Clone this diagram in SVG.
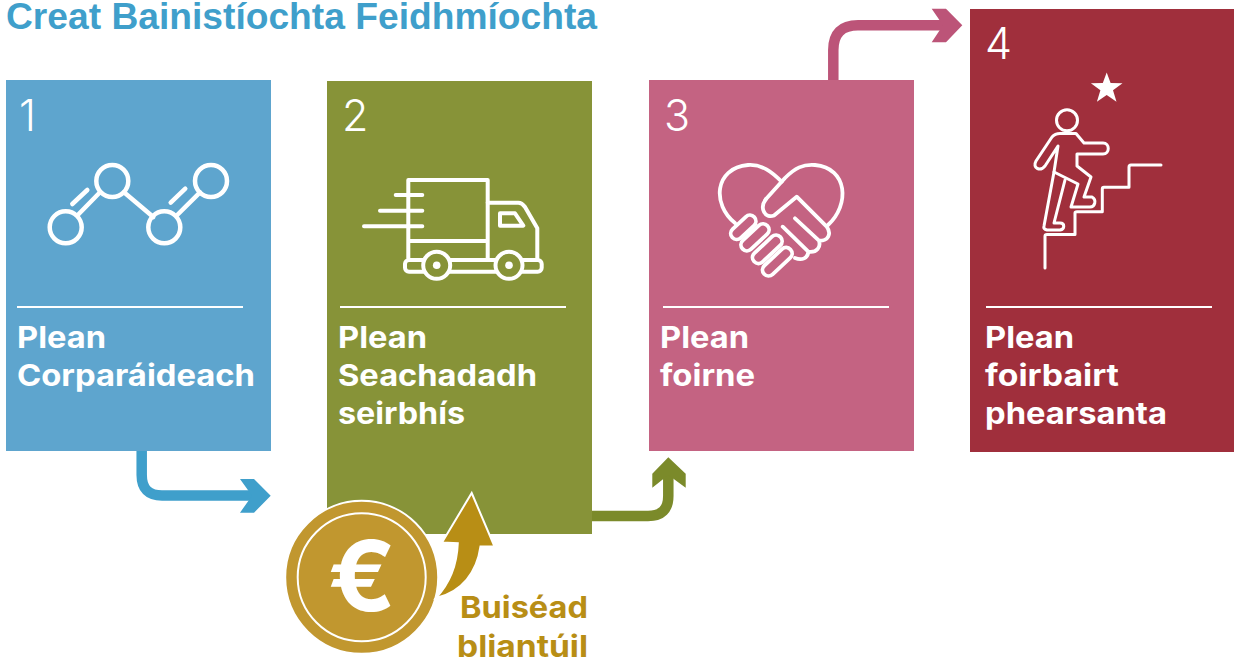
<svg xmlns="http://www.w3.org/2000/svg" width="1234" height="661" viewBox="0 0 1234 661">
<style>
text{font-family:Inter,"Noto Sans",sans-serif}
.t{font-size:30px;font-weight:700;fill:#fff}
.n{font-size:43px;font-weight:300;fill:#fff}
.g{font-size:30px;font-weight:700;fill:#b88e15}
.i{fill:none;stroke:#fff;stroke-linecap:round;stroke-linejoin:round}
.r{stroke:#fff;stroke-width:2}
</style>
<rect width="1234" height="661" fill="#fff"/>
<text x="6" y="29" font-size="37.200" font-weight="700" fill="#3f9fcb" style="font-family:'Liberation Sans',Arial,sans-serif">Creat Bainistíochta Feidhmíochta</text>
<g id="connectors">
<path d="M141.700 451V475Q141.700 495.500 162 495.500H256" fill="none" stroke="#3f9fcb" stroke-width="10.500"/>
<path d="M240 479H254L270.700 495.700L254 512.700H240L252 495.700Z" fill="#3f9fcb"/>
<path d="M592 516H648Q668.300 516 668.300 496V470" fill="none" stroke="#7b8a2a" stroke-width="10.500"/>
<path d="M668.300 457.300L685.700 473.700V487.700L668.300 475L652.300 487.700V473.700Z" fill="#7b8a2a"/>
<path d="M833.300 80V50Q833.300 25.300 858 25.300H950" fill="none" stroke="#bc5478" stroke-width="10.500"/>
<path d="M931.700 8.700H946L962.300 25.300L946 42.300H931.700L943 25.300Z" fill="#bc5478"/>
</g>
<g id="node-1">
<rect x="6" y="80" width="265" height="371" fill="#5ea5ce"/>
<text class="n" x="19" y="131">1</text>
<g class="i" stroke-width="4.500">
<circle cx="65.700" cy="227.300" r="16"/><circle cx="112.300" cy="181" r="16"/><circle cx="164.300" cy="227.300" r="16"/><circle cx="211" cy="181" r="16"/>
<path d="M77.300 215.500L100 192.300M72.300 204L87.300 190M124 192.300L153.300 217M176.700 215.500L200 192.300M170.700 202.700L185.300 188.700"/>
</g>
<line class="r" x1="17" y1="307" x2="243" y2="307"/>
<text class="t" x="17" y="348" textLength="89" lengthAdjust="spacingAndGlyphs">Plean</text>
<text class="t" x="17" y="386" textLength="238" lengthAdjust="spacingAndGlyphs">Corparáideach</text>
</g>
<g id="node-2">
<rect x="327" y="81" width="265" height="453" fill="#879338"/>
<text class="n" x="342" y="131">2</text>
<g class="i" stroke-width="4">
<path d="M408.300 258V180H487.700V258M408.300 241H487.700M395.700 195H422.300M380 210.700H422.300M364 226.300H422.300"/>
<path d="M487.700 202.700H518.300Q522 202.700 525 207L537.300 228.300V258.300"/>
<path d="M500 213.300H515L523.300 225.700H500Z"/>
<rect x="405" y="260" width="136.700" height="11.700" rx="4"/>
<circle cx="436.700" cy="265.300" r="13.500" fill="#879338"/><circle cx="509" cy="265.300" r="13.500" fill="#879338"/>
</g>
<circle cx="436.700" cy="265.300" r="3.800" fill="#fff"/><circle cx="509" cy="265.300" r="3.800" fill="#fff"/>
<line class="r" x1="340" y1="307" x2="566" y2="307"/>
<text class="t" x="338" y="348" textLength="89" lengthAdjust="spacingAndGlyphs">Plean</text>
<text class="t" x="338" y="386" textLength="199" lengthAdjust="spacingAndGlyphs">Seachadadh</text>
<text class="t" x="338" y="424" textLength="127" lengthAdjust="spacingAndGlyphs">seirbhís</text>
</g>
<g id="node-3">
<rect x="649" y="80" width="265" height="371" fill="#c46382"/>
<text class="n" x="664" y="131">3</text>
<g class="i" stroke-width="3.800">
<path d="M735 223C712 205 714 168 748 165C762 164 772 172 781.700 181.700"/>
<path d="M828 225C850 205 848 168 815 165C803 164 795 168 785 178L766 199"/>
<path d="M766 199C759 208 765 219 774 215.500L796.700 196.700L826.700 226.700C832 234 828 241 819 240.700L795 218.300M819 240.700C821 247 817 253 808.300 251.700L782.700 226.700M808.300 251.700C808 258 802 261 795 258"/>
<rect x="728.300" y="221.300" width="30" height="12" rx="6" transform="rotate(-43 743.300 227.300)"/>
<rect x="738" y="231.300" width="34" height="12" rx="6" transform="rotate(-43 755 237.300)"/>
<rect x="749.300" y="243.300" width="36" height="12" rx="6" transform="rotate(-43 767.300 249.300)"/>
<rect x="759.300" y="255.700" width="36" height="12" rx="6" transform="rotate(-43 777.300 261.700)"/>
</g>
<line class="r" x1="663" y1="307" x2="889" y2="307"/>
<text class="t" x="660" y="348" textLength="89" lengthAdjust="spacingAndGlyphs">Plean</text>
<text class="t" x="660" y="386" textLength="95" lengthAdjust="spacingAndGlyphs">foirne</text>
</g>
<g id="node-4">
<rect x="970" y="9" width="264" height="443" fill="#a02f3c"/>
<text class="n" x="985" y="59">4</text>
<polygon points="1106.700,72.500 1110.600,83 1122.500,83.300 1113,90.300 1116.500,101.800 1106.700,95 1096.900,101.800 1100.400,90.300 1090.900,83.300 1102.800,83" fill="#fff"/>
<g class="i" stroke-width="3">
<circle cx="1067" cy="120.300" r="10.500"/>
<path d="M1045 268V236Q1045 234.500 1047 234.500H1075V213Q1075 211.700 1077 211.700H1102.300V189Q1102.300 187.300 1104 187.300H1129V167Q1129 165 1131 165H1161"/>
<path d="M1060 133.500H1076L1084 143H1103C1110 143 1110 154 1103 154H1077V166L1091 177L1084 197H1092C1097 200 1095 207 1090 207H1071L1078 184L1054 172L1058 146L1045 166C1040 172 1032 168 1036 161L1052 137Q1055 133.500 1060 133.500Z"/>
<path d="M1054 172L1044 226Q1043 229 1047 230H1060C1065 229 1065 223 1060 223H1054L1065 180"/>
</g>
<line class="r" x1="986" y1="307" x2="1212" y2="307"/>
<text class="t" x="985" y="348" textLength="89" lengthAdjust="spacingAndGlyphs">Plean</text>
<text class="t" x="985" y="386" textLength="134" lengthAdjust="spacingAndGlyphs">foirbairt</text>
<text class="t" x="985" y="424" textLength="182" lengthAdjust="spacingAndGlyphs">phearsanta</text>
</g>
<g id="budget">
<circle cx="361.700" cy="577.300" r="76.500" fill="#c1972f" stroke="#fff" stroke-width="2"/>
<circle cx="361.700" cy="577.300" r="64" fill="none" stroke="#fff" stroke-width="2"/>
<text x="328" y="611" font-size="97" font-weight="700" fill="#fff" textLength="68" lengthAdjust="spacingAndGlyphs">€</text>
<path d="M471.700 493L494.500 546.500L480.500 546.500C477 572 462 592 436 598C451 582 457 565 457.800 543.300L442 542.500Z" fill="#b88e15" stroke="#fff" stroke-width="2"/>
<text class="g" x="460" y="618" textLength="128" lengthAdjust="spacingAndGlyphs">Buiséad</text>
<text class="g" x="457" y="657" textLength="131" lengthAdjust="spacingAndGlyphs">bliantúil</text>
</g>
</svg>
